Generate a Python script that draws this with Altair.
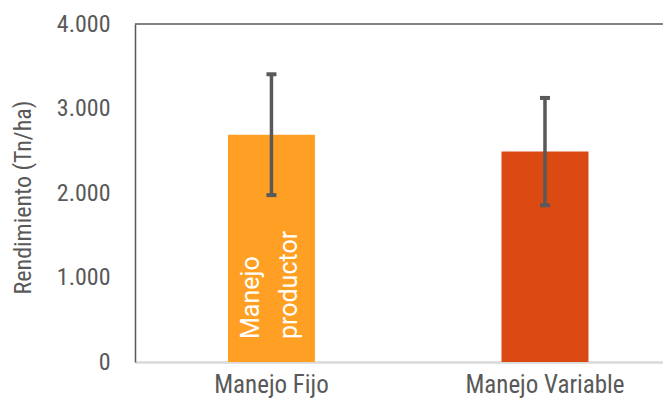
import altair as alt
import pandas as pd

categories = ["Manejo Fijo", "Manejo Variable"]
rendimiento = [2690, 2490]
error = [715, 635]
bar_colors = ["#FFA024", "#DC4A14"]
bar_labels = ["Manejo\nproductor", ""]
y_ticks = [0, 1000, 2000, 3000, 4000]

df = pd.DataFrame({"cat": categories, "val": rendimiento, "err": error, "label": bar_labels})
df["lo"] = df["val"] - df["err"]
df["hi"] = df["val"] + df["err"]

FONT = "Roboto Condensed, Roboto, sans-serif"
GRAY = "#595959"
W, H = 528, 338

xscale = alt.Scale(domain=categories, paddingInner=0.682, paddingOuter=0.3062, align=0.555)
x_axis = alt.Axis(title=None, labelAngle=0, labelFontSize=25, labelColor=GRAY, labelFont=FONT,
                  labelPadding=10, ticks=False, domainColor="#d9d9d9", domainWidth=2.5,
                  labelFontWeight="normal")
x = alt.X("cat:N", sort=categories, scale=xscale, axis=x_axis)
yscale = alt.Scale(domain=[0, 4000], nice=False, zero=True)

y_axis = alt.Axis(title="Rendimiento (Tn/ha)", values=y_ticks,
                  labelExpr="replace(format(datum.value, ','), ',', '.')",
                  grid=False, ticks=False, labelPadding=25, labelFontSize=24,
                  labelColor=GRAY, labelFont=FONT, titleFont=FONT, titleFontSize=24,
                  titleColor=GRAY, titleFontWeight="normal", titleX=-112, titleY=173,
                  titleAngle=270, titleAlign="center", titleBaseline="middle",
                  domainColor=GRAY, domainWidth=1.5)

base = alt.Chart(df)

bars = base.mark_bar().encode(
    x=x,
    y=alt.Y("val:Q", scale=yscale, axis=y_axis),
    color=alt.Color("cat:N", scale=alt.Scale(domain=categories, range=bar_colors), legend=None),
)

stems = base.mark_rule(color=GRAY, strokeWidth=3.5).encode(
    x=x, y=alt.Y("lo:Q", scale=yscale, axis=y_axis), y2="hi:Q"
)
cap_lo = base.mark_tick(color=GRAY, thickness=4, size=10, opacity=1).encode(
    x=x, y=alt.Y("lo:Q", scale=yscale, axis=y_axis)
)
cap_hi = base.mark_tick(color=GRAY, thickness=4, size=10, opacity=1).encode(
    x=x, y=alt.Y("hi:Q", scale=yscale, axis=y_axis)
)

inner_text = base.mark_text(angle=270, align="left", baseline="alphabetic", fontSize=25,
                            lineHeight=38, color="white", font="Roboto, sans-serif",
                            lineBreak="\n", dy=-12).encode(
    x=x, y=alt.value(315), text="label:N"
)

top_line = alt.Chart(pd.DataFrame({"a": [0]})).mark_rule(color=GRAY, strokeWidth=1.5).encode(
    x=alt.value(0), x2=alt.value(W), y=alt.value(0)
)

chart = alt.layer(bars, stems, cap_lo, cap_hi, inner_text, top_line).properties(
    width=W, height=H,
    autosize=alt.AutoSizeParams(type="none"),
    padding={"left": 127, "top": 16, "right": 0, "bottom": 36},
).configure_view(strokeWidth=0)

chart.save("out.html", embed_options={"renderer": "svg", "actions": False})
